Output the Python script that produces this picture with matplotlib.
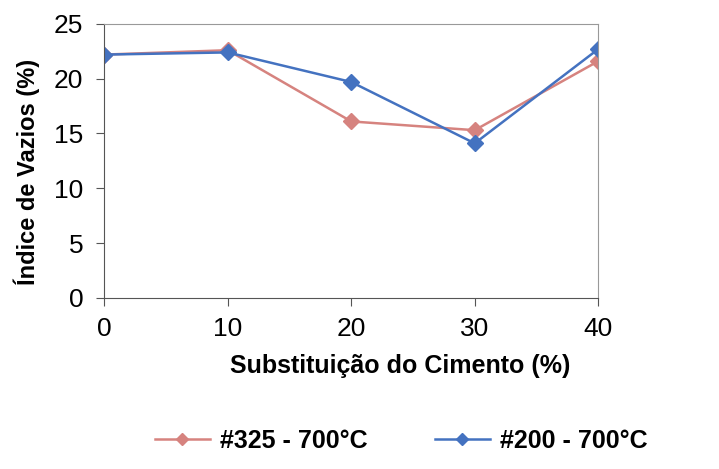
import matplotlib
matplotlib.use("Agg")
import matplotlib.pyplot as plt

plt.rcParams['font.family'] = ['Liberation Sans', 'DejaVu Sans']

# data
substituicao = [0, 10, 20, 30, 40]
vazios_325 = [22.2, 22.6, 16.1, 15.3, 21.6]
vazios_200 = [22.2, 22.4, 19.7, 14.1, 22.7]
labels = ['#325 - 700°C', '#200 - 700°C']

fig = plt.figure(figsize=(7.19, 4.69), dpi=100)
ax = fig.add_axes([0.145, 0.365, 0.687, 0.584])

ax.plot(substituicao, vazios_325, color='#D6837F', marker='D', markersize=8.5,
        linewidth=1.8, label=labels[0])
ax.plot(substituicao, vazios_200, color='#4472C0', marker='D', markersize=8.5,
        linewidth=1.8, label=labels[1])

ax.set_xlim(0, 40)
ax.set_ylim(0, 25)
ax.set_xticks([0, 10, 20, 30, 40])
ax.set_yticks([0, 5, 10, 15, 20, 25])
ax.tick_params(labelsize=19, direction='out', length=6, color='#555555')
ax.tick_params(axis='y', pad=9)
ax.tick_params(axis='x', pad=8)

for s in ['top', 'right']:
    ax.spines[s].set_color('#999999')
for s in ['left', 'bottom']:
    ax.spines[s].set_color('#555555')

ax.set_xlabel('Substituição do Cimento (%)', fontsize=18, fontweight='bold')
ax.xaxis.set_label_coords(0.6, -0.205)
ax.set_ylabel('Índice de Vazios (%)', fontsize=17, fontweight='bold')
ax.yaxis.set_label_coords(-0.13, 0.46)

fig.legend(loc='center', bbox_to_anchor=(0.558, 0.06), ncol=2, frameon=False,
           prop={'size': 18, 'weight': 'bold'}, handlelength=2.2,
           handletextpad=0.4, columnspacing=2.7, markerscale=0.75)

fig.savefig('out.png', dpi=100)
